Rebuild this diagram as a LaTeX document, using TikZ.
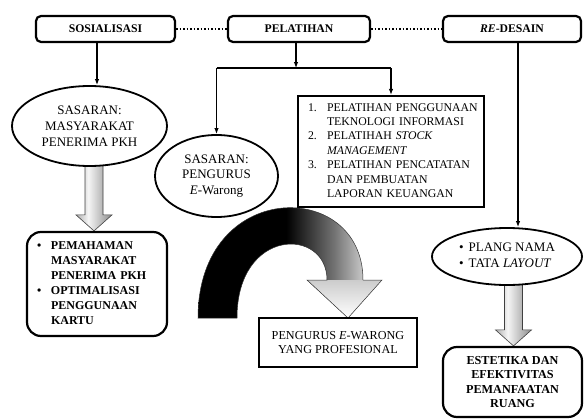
\documentclass[tikz,border=0pt]{standalone}
\usepackage{fontspec}
\setmainfont{Liberation Serif}
\usepackage{tikz}
\usetikzlibrary{shapes.geometric, arrows.meta, positioning, backgrounds, calc}
\definecolor{shaftgray}{RGB}{140,140,140}
\definecolor{shaftlight}{RGB}{245,245,245}
\pgfdeclarehorizontalshading{shaftfade}{100bp}{color(0bp)=(shaftgray!70); color(25bp)=(shaftgray!70);
  color(42bp)=(shaftlight); color(75bp)=(shaftgray); color(100bp)=(shaftgray)}
\pgfdeclarehorizontalshading{arcfade}{100bp}{color(0bp)=(black); color(25bp)=(black);
  color(49bp)=(black); color(62bp)=(black!55); color(75bp)=(white); color(100bp)=(white)}
\tikzset{
  headbox/.style={rectangle, rounded corners=5pt, draw, line width=2.2pt, fill=white,
    minimum height=26pt, font=\fontsize{11.7}{13}\selectfont\bfseries},
  ovalbox/.style={ellipse, draw, line width=1.8pt, fill=white, inner sep=0pt,
    align=center, font=\fontsize{13}{15.5}\selectfont},
  roundbox/.style={rectangle, rounded corners=14pt, draw, line width=2.2pt, fill=white,
    inner sep=0pt},
  squarebox/.style={rectangle, draw, line width=2.2pt, fill=white, inner sep=0pt},
  arrow/.style={-{Latex[length=6pt,width=4.5pt]}, line width=1.2pt},
  link/.style={line width=1.5pt, dotted},
  fatarrow/.style={shading=shaftfade, draw=black!75, line width=0.6pt},
}
% fat down arrow: #1 top of shaft, #2 tip
\newcommand{\fatdown}[2]{%
  \shade[fatarrow] ($(#1)+(-9,0)$) -- ($(#2)+(-9,-16)$) -- ($(#2)+(-18,-16)$)
    -- (#2) -- ($(#2)+(18,-16)$) -- ($(#2)+(9,-16)$) -- ($(#1)+(9,0)$) -- cycle;}
% curved band from the training box down to the result
\newcommand{\bendpath}{(198,318) .. controls (198,178) and (363,178) .. (363,280)
  -- (382,280) -- (348,318) -- (307,280) -- (327,280)
  .. controls (327,227) and (237,227) .. (237,318) -- cycle}

\begin{document}
\begin{tikzpicture}[x=1pt, y=-1pt]
  \useasboundingbox (0,0) rectangle (584,420);

  % top row
  \node[headbox, minimum width=139pt] (sos) at (105.5,29) {SOSIALISASI};
  \node[headbox, minimum width=142pt] (pel) at (299,29) {PELATIHAN};
  \node[headbox, minimum width=138pt] (red) at (512,29) {\textit{RE}-DESAIN};
  \draw[link] (sos) -- (pel);
  \draw[link] (pel) -- (red);

  % sosialisasi
  \node[ovalbox, minimum width=155pt, minimum height=80pt,
        font=\fontsize{13}{16}\selectfont] (ell1) at (89.5,126)
    {SASARAN:\\MASYARAKAT\\PENERIMA PKH};
  \draw[arrow] ([xshift=-8.5pt]sos.south) -- ([xshift=-8.5pt]sos.south |- ell1.north);
  \node[roundbox, minimum width=140pt, minimum height=104pt, text width=120pt,
        align=left, font=\fontsize{12}{15}\selectfont\bfseries] (box1) at (97,284) {%
    \begin{tabular}{@{}p{14pt}@{}l@{}}
      \textbullet & PEMAHAMAN\\ & MASYARAKAT\\ & PENERIMA PKH\\
      \textbullet & OPTIMALISASI\\ & PENGGUNAAN\\ & KARTU
    \end{tabular}};
  \coordinate (fat1top) at ([xshift=4.5pt,yshift=4pt]ell1.south);
  \coordinate (fat1tip) at (fat1top |- box1.north);

  % pelatihan
  \node[ovalbox, minimum width=123pt, minimum height=82pt] (ell2) at (216.5,176)
    {SASARAN:\\PENGURUS\\\textit{E}-Warong};
  \node[squarebox, minimum width=186pt, minimum height=111pt, text width=166pt,
        align=left, font=\fontsize{11.8}{14.4}\selectfont] (box2) at (391,151.5) {%
    \begin{tabular}{@{}p{19pt}@{}l@{}}
      1. & PELATIHAN PENGGUNAAN\\ & TEKNOLOGI INFORMASI\\
      2. & PELATIHAH \textit{STOCK}\\ & \textit{MANAGEMENT}\\
      3. & PELATIHAN PENCATATAN\\ & DAN PEMBUATAN\\ & LAPORAN KEUANGAN
    \end{tabular}};
  \coordinate (pelsplit) at ([xshift=-3pt,yshift=-25pt]pel.south);
  \draw[arrow] (pelsplit |- pel.south) -- (pelsplit);
  \draw[line width=1.2pt] (ell2.north |- pelsplit) -- (box2.north |- pelsplit);
  \draw[arrow] (ell2.north |- pelsplit) -- (ell2.north);
  \draw[arrow] (box2.north |- pelsplit) -- (box2.north);
  \node[squarebox, minimum width=158pt, minimum height=49pt, align=center,
        font=\fontsize{12.2}{13.5}\selectfont] (box4) at (338,342.5)
    {PENGURUS \textit{E}-WARONG\\YANG PROFESIONAL};

  % re-desain
  \node[ovalbox, minimum width=150pt, minimum height=57pt] (ell3) at (507,256.5) {%
    \begin{tabular}{@{}l@{\hspace{5pt}}l@{}}
      \textbullet & PLANG NAMA\\ \textbullet & TATA \textit{LAYOUT}
    \end{tabular}};
  \draw[arrow] ([xshift=6pt]red.south) -- ([xshift=6pt]red.south |- ell3.north);
  \node[roundbox, minimum width=139pt, minimum height=70pt, align=center,
        font=\fontsize{12.2}{14.5}\selectfont\bfseries] (box3) at (512.5,382)
    {ESTETIKA DAN\\EFEKTIVITAS\\PEMANFAATAN\\RUANG};
  \coordinate (fat2top) at ([xshift=6.5pt,yshift=4pt]ell3.south);
  \coordinate (fat2tip) at (fat2top |- box3.north);

  \begin{scope}[on background layer]
    \fatdown{fat1top}{fat1tip}
    \fatdown{fat2top}{fat2tip}
    \shade[shading=arcfade] \bendpath;
    \shade[top color=gray!40, bottom color=white]
      (307,280) -- (382,280) -- (348,318) -- cycle;
    \draw[black!80, line width=0.5pt] \bendpath;
  \end{scope}
\end{tikzpicture}
\end{document}
